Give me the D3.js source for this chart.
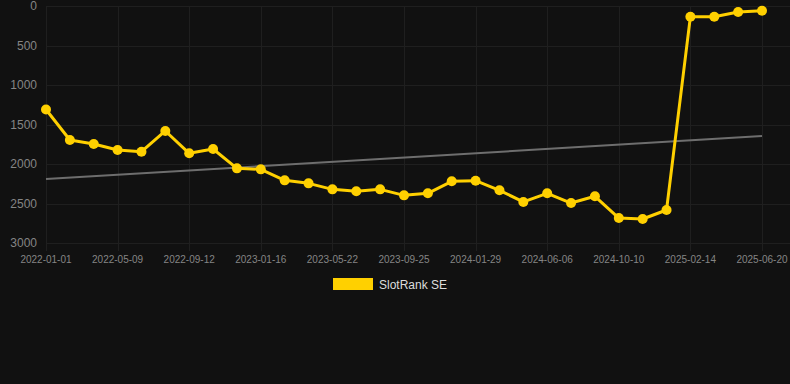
<!DOCTYPE html>
<html><head><meta charset="utf-8">
<script src="https://cdn.jsdelivr.net/npm/d3@7"></script>
<style>html,body{margin:0;padding:0;background:#111111;}svg{display:block;}</style>
</head><body>
<svg id="chart" width="790" height="384"></svg>
<script>
const dates = ["2022-01-01","2022-02-13","2022-03-27","2022-05-09","2022-06-20","2022-08-01","2022-09-12","2022-10-24","2022-12-05","2023-01-16","2023-02-27","2023-04-10","2023-05-22","2023-07-03","2023-08-14","2023-09-25","2023-11-06","2023-12-18","2024-01-29","2024-03-12","2024-04-24","2024-06-06","2024-07-18","2024-08-29","2024-10-10","2024-11-21","2025-01-03","2025-02-14","2025-03-28","2025-05-09","2025-06-20"];
const rankValues = [1310,1696,1747,1823,1844,1582,1865,1810,2055,2068,2207,2245,2321,2346,2321,2397,2371,2219,2211,2333,2480,2371,2494,2409,2684,2696,2582,135,135,76,59];
const trendValues = [2190,1646];
const yTicks = [0,500,1000,1500,2000,2500,3000];
const seriesName = "SlotRank SE";

(function(){
const svg = d3.select("#chart");
const mLeft = 46, mRight = 762, mTop = 6, mBottom = 243;
const x = d3.scalePoint().domain(dates).range([mLeft, mRight]);
const y = d3.scaleLinear().domain([0,3000]).range([mTop, mBottom]);

const tickDates = dates.filter((d,i)=>i%3===0);

svg.append("g").selectAll("line").data(yTicks).join("line")
  .attr("x1", mLeft).attr("x2", 790).attr("y1", d=>Math.round(y(d))+0.5).attr("y2", d=>Math.round(y(d))+0.5)
  .attr("stroke", "#1f1f1f").attr("stroke-width", 1);
svg.append("g").selectAll("line").data(tickDates).join("line")
  .attr("x1", d=>Math.round(x(d))+0.5).attr("x2", d=>Math.round(x(d))+0.5)
  .attr("y1", mTop).attr("y2", mBottom+8)
  .attr("stroke", "#1f1f1f").attr("stroke-width", 1);

svg.append("g").selectAll("text").data(yTicks).join("text")
  .attr("x", 37).attr("y", d=>y(d)).attr("dy", "0.35em")
  .attr("text-anchor", "end").attr("fill", "#858585")
  .attr("font-family", "Liberation Sans, Arial, sans-serif").attr("font-size", 12)
  .text(d=>d);

svg.append("g").selectAll("text").data(tickDates).join("text")
  .attr("x", d=>x(d)).attr("y", 259).attr("dy", "0.35em")
  .attr("text-anchor", "middle").attr("fill", "#858585")
  .attr("font-family", "Liberation Sans, Arial, sans-serif").attr("font-size", 10)
  .text(d=>d);

svg.append("line")
  .attr("x1", x(dates[0])).attr("y1", y(trendValues[0]))
  .attr("x2", x(dates[dates.length-1])).attr("y2", y(trendValues[1]))
  .attr("stroke", "#6e6e6e").attr("stroke-width", 2);

const data = dates.map((d,i)=>({d, v: rankValues[i]}));
svg.append("path").datum(data)
  .attr("fill", "none").attr("stroke", "#ffd000").attr("stroke-width", 3)
  .attr("stroke-linejoin", "round")
  .attr("d", d3.line().x(p=>x(p.d)).y(p=>y(p.v)));
svg.append("g").selectAll("circle").data(data).join("circle")
  .attr("cx", p=>x(p.d)).attr("cy", p=>y(p.v)).attr("r", 5)
  .attr("fill", "#ffd000");

svg.append("rect").attr("x", 333).attr("y", 278).attr("width", 40).attr("height", 12).attr("fill", "#ffd000");
svg.append("text").attr("x", 379).attr("y", 284.5).attr("dy", "0.35em")
  .attr("fill", "#dddddd").attr("font-family", "Liberation Sans, Arial, sans-serif").attr("font-size", 12)
  .text(seriesName);
})();
</script>
</body></html>
